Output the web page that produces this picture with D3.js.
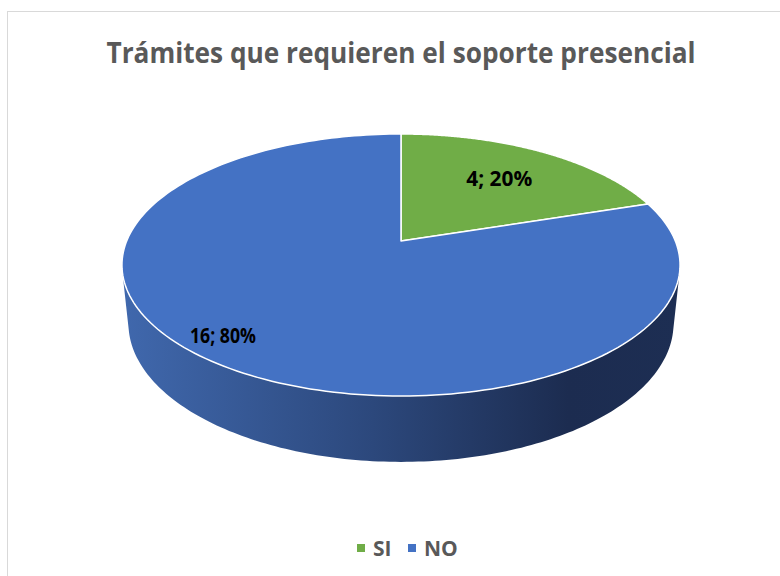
<!DOCTYPE html>
<html>
<head>
<meta charset="utf-8">
<script src="https://cdn.jsdelivr.net/npm/d3@7"></script>
<style>
  body { margin: 0; background: #fff; }
  svg { display: block; }
</style>
</head>
<body>
<div id="chart"></div>
<script>
// data
const categories = ["SI", "NO"];
const values = [4, 16];
const colors = ["#70ad47", "#4472c4"];
const titleText = "Trámites que requieren el soporte presencial";

const W = 780, H = 576;

// *perspective set-up for the 3D pie (fitted to the reference)
const cx = 401, cy = 241;
const k = 1328, sA = 0.4616, cA = 0.887, D = 4.841;
const depth = 0.242;

// x lateral, y up, z away from viewer
function proj(x, y, z) {
  let d = D + (-y * sA + z * cA);
  let v = y * cA + z * sA;
  return [cx + (k * x) / d, cy - (k * v) / d];
}
function rim(theta, r, y) {
  return proj(r * Math.sin(theta), y, r * Math.cos(theta));
}

let svg = d3
  .select("#chart")
  .append("svg")
  .attr("width", W)
  .attr("height", H);

// chart border
svg
  .append("rect")
  .attr("x", 7.5)
  .attr("y", 11.5)
  .attr("width", 800)
  .attr("height", 600)
  .attr("fill", "#fff")
  .attr("stroke", "#d9d9d9")
  .attr("stroke-width", 1);

// title
svg
  .append("text")
  .attr("x", 401)
  .attr("y", 63)
  .attr("text-anchor", "middle")
  .attr("font-family", "'Open Sans', sans-serif")
  .attr("font-weight", "bold")
  .attr("font-size", 28)
  .attr("fill", "#595959")
  .attr("textLength", 589)
  .attr("lengthAdjust", "spacingAndGlyphs")
  .text(titleText);

let pie = d3.pie().sort(null).startAngle(0).endAngle(2 * Math.PI);
let arcs = pie(values);
let total = d3.sum(values);

// gradient for the side wall
let defs = svg.append("defs");
let grad = defs
  .append("linearGradient")
  .attr("id", "sideGrad")
  .attr("gradientUnits", "userSpaceOnUse")
  .attr("x1", 122)
  .attr("x2", 680)
  .attr("y1", 0)
  .attr("y2", 0);
[
  [0, "#4068ad"],
  [0.45, "#2c487c"],
  [0.8, "#1c2c50"],
  [1, "#1d2e53"],
].forEach((s) =>
  grad.append("stop").attr("offset", s[0]).attr("stop-color", s[1])
);

// *side wall: front facing quads only
const N = 360;
let sidePath = d3.path();
function quadArea(q) {
  let a = 0;
  for (let i = 0; i < q.length; i++) {
    let p = q[i], n = q[(i + 1) % q.length];
    a += p[0] * n[1] - n[0] * p[1];
  }
  return a;
}
let refSign = Math.sign(
  quadArea([rim(Math.PI, 1, 0), rim(Math.PI + 0.01, 1, 0), rim(Math.PI + 0.01, 1, -depth), rim(Math.PI, 1, -depth)])
);
arcs.forEach(function (a) {
  let steps = Math.max(2, Math.round(((a.endAngle - a.startAngle) / (2 * Math.PI)) * N));
  for (let i = 0; i < steps; i++) {
    let t0 = a.startAngle + ((a.endAngle - a.startAngle) * i) / steps;
    let t1 = a.startAngle + ((a.endAngle - a.startAngle) * (i + 1)) / steps;
    let q = [rim(t0, 1, 0), rim(t1, 1, 0), rim(t1, 1, -depth), rim(t0, 1, -depth)];
    if (Math.sign(quadArea(q)) !== refSign) continue;
    sidePath.moveTo(q[0][0], q[0][1]);
    q.slice(1).forEach((p) => sidePath.lineTo(p[0], p[1]));
    sidePath.closePath();
  }
});
svg
  .append("path")
  .attr("d", sidePath.toString())
  .attr("fill", "url(#sideGrad)")
  .attr("stroke", "none");

// *top face slices
arcs.forEach(function (a, i) {
  let p = d3.path();
  let c0 = proj(0, 0, 0);
  p.moveTo(c0[0], c0[1]);
  let steps = 200;
  for (let j = 0; j <= steps; j++) {
    let t = a.startAngle + ((a.endAngle - a.startAngle) * j) / steps;
    let pt = rim(t, 1, 0);
    p.lineTo(pt[0], pt[1]);
  }
  p.closePath();
  svg
    .append("path")
    .attr("d", p.toString())
    .attr("fill", colors[i])
    .attr("stroke", "#fff")
    .attr("stroke-width", 1.5)
    .attr("stroke-linejoin", "round");
});

// data labels
const labelR = [0.67, 0.87];
const labelShift = [0, 5 * Math.PI / 180];
arcs.forEach(function (a, i) {
  let mid = (a.startAngle + a.endAngle) / 2 + labelShift[i];
  let pt = rim(mid, labelR[i], 0);
  let pct = Math.round((values[i] / total) * 100);
  svg
    .append("text")
    .attr("x", pt[0])
    .attr("y", pt[1] + 7)
    .attr("text-anchor", "middle")
    .attr("font-family", "'Liberation Sans Narrow', 'Open Sans', sans-serif")
    .attr("font-weight", "bold")
    .attr("font-size", 21)
    .attr("fill", "#000")
    .attr("textLength", 66)
    .attr("lengthAdjust", "spacingAndGlyphs")
    .text(values[i] + "; " + pct + "%");
});

// legend
const legendX = [357, 408];
let legend = svg
  .selectAll(".legend")
  .data(categories)
  .enter()
  .append("g")
  .attr("class", "legend")
  .attr("transform", (d, i) => "translate(" + legendX[i] + ",544)");
legend
  .append("rect")
  .attr("width", 8)
  .attr("height", 8)
  .attr("fill", (d, i) => colors[i]);
legend
  .append("text")
  .attr("x", 16)
  .attr("y", 12)
  .attr("font-family", "'Liberation Sans Narrow', 'Open Sans', sans-serif")
  .attr("font-weight", "bold")
  .attr("font-size", 21)
  .attr("fill", "#595959")
  .text((d) => d);
</script>
</body>
</html>
